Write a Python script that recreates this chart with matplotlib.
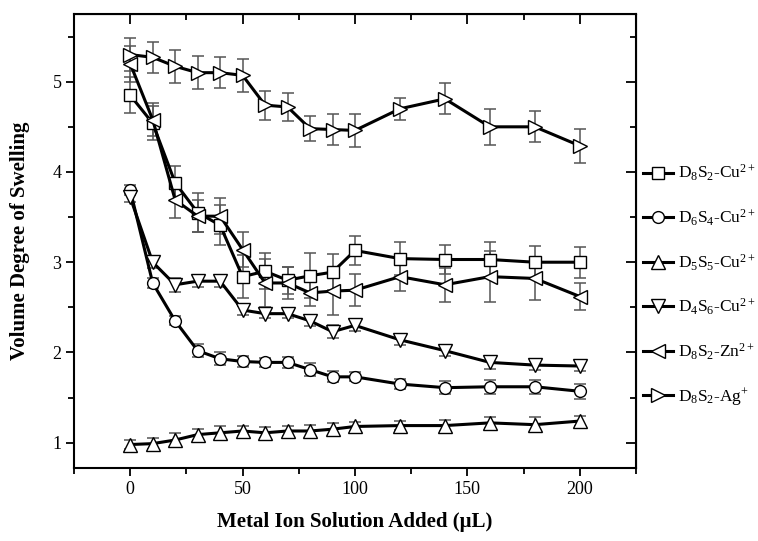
import numpy as np
import matplotlib
matplotlib.use('Agg')
import matplotlib.pyplot as plt
from matplotlib.ticker import MultipleLocator

plt.rcParams['font.family'] = ['Liberation Serif', 'DejaVu Serif']
plt.rcParams['mathtext.fontset'] = 'custom'
plt.rcParams['mathtext.rm'] = 'Liberation Serif'
plt.rcParams['mathtext.it'] = 'Liberation Serif:italic'

x = [0, 10, 20, 30, 40, 50, 60, 70, 80, 90, 100, 120, 140, 160, 180, 200]

d8s2_cu = [4.85, 4.54, 3.88, 3.55, 3.41, 2.84, 2.90, 2.80, 2.85, 2.89, 3.13, 3.04, 3.03, 3.03, 3.00, 3.00]
d8s2_cu_err = [0.20, 0.19, 0.19, 0.22, 0.22, 0.24, 0.20, 0.15, 0.25, 0.20, 0.16, 0.18, 0.16, 0.19, 0.18, 0.17]

d6s4_cu = [3.80, 2.77, 2.35, 2.02, 1.93, 1.90, 1.89, 1.89, 1.81, 1.73, 1.73, 1.65, 1.61, 1.62, 1.62, 1.57]
d6s4_cu_err = [0.05, 0.06, 0.05, 0.07, 0.07, 0.06, 0.05, 0.06, 0.07, 0.06, 0.05, 0.06, 0.07, 0.08, 0.08, 0.08]

d5s5_cu = [0.98, 0.99, 1.03, 1.09, 1.11, 1.13, 1.11, 1.13, 1.13, 1.15, 1.18, 1.19, 1.19, 1.22, 1.20, 1.24]
d5s5_cu_err = [0.05, 0.06, 0.08, 0.06, 0.08, 0.05, 0.06, 0.06, 0.07, 0.07, 0.05, 0.05, 0.06, 0.06, 0.08, 0.06]

d4s6_cu = [3.72, 3.00, 2.75, 2.79, 2.79, 2.47, 2.43, 2.43, 2.35, 2.23, 2.30, 2.14, 2.02, 1.89, 1.86, 1.85]
d4s6_cu_err = [0.05, 0.06, 0.08, 0.06, 0.06, 0.05, 0.05, 0.05, 0.06, 0.07, 0.06, 0.06, 0.06, 0.07, 0.05, 0.05]

d8s2_zn = [5.20, 4.58, 3.69, 3.51, 3.51, 3.14, 2.77, 2.77, 2.66, 2.68, 2.69, 2.84, 2.75, 2.84, 2.82, 2.62]
d8s2_zn_err = [0.20, 0.18, 0.20, 0.18, 0.20, 0.19, 0.27, 0.18, 0.15, 0.27, 0.18, 0.16, 0.19, 0.28, 0.24, 0.15]

d8s2_ag = [5.30, 5.27, 5.17, 5.10, 5.10, 5.07, 4.74, 4.72, 4.48, 4.47, 4.46, 4.70, 4.81, 4.50, 4.50, 4.29]
d8s2_ag_err = [0.18, 0.17, 0.18, 0.18, 0.17, 0.18, 0.16, 0.15, 0.14, 0.17, 0.18, 0.12, 0.17, 0.20, 0.17, 0.19]

series = [
    (d8s2_cu, d8s2_cu_err, 's', r'D$_8$S$_2$-Cu$^{2+}$'),
    (d6s4_cu, d6s4_cu_err, 'o', r'D$_6$S$_4$-Cu$^{2+}$'),
    (d5s5_cu, d5s5_cu_err, '^', r'D$_5$S$_5$-Cu$^{2+}$'),
    (d4s6_cu, d4s6_cu_err, 'v', r'D$_4$S$_6$-Cu$^{2+}$'),
    (d8s2_zn, d8s2_zn_err, '<', r'D$_8$S$_2$-Zn$^{2+}$'),
    (d8s2_ag, d8s2_ag_err, '>', r'D$_8$S$_2$-Ag$^{+}$'),
]

fig = plt.figure(figsize=(7.58, 5.41), dpi=100)
ax = fig.add_axes([74 / 758, 1 - 468 / 541, (636 - 74) / 758, (468 - 14) / 541])

handles = []
for y, err, m, lab in series:
    ax.errorbar(x, y, yerr=err, fmt='none', ecolor='#555555', elinewidth=1.1,
                capsize=4, capthick=1.1, zorder=2)
    ms = 10 if m in ('^', 'v', '<', '>') else 8.5
    h, = ax.plot(x, y, color='black', lw=2.2, marker=m, ms=ms,
                 mfc='white', mec='black', mew=1.0, label=lab, zorder=3)
    handles.append(h)

ax.set_xlim(-25, 225)
ax.set_ylim(0.72, 5.75)
ax.xaxis.set_major_locator(MultipleLocator(50))
ax.xaxis.set_minor_locator(MultipleLocator(25))
ax.yaxis.set_major_locator(MultipleLocator(1))
ax.yaxis.set_minor_locator(MultipleLocator(0.5))

for s in ax.spines.values():
    s.set_linewidth(1.5)

ax.tick_params(which='both', direction='out', width=1.3, labelsize=13, pad=3)
ax.tick_params(which='major', length=6)
ax.tick_params(which='minor', length=4)

# inner ticks on top and right like the original
sec_x = ax.secondary_xaxis('top')
sec_x.xaxis.set_major_locator(MultipleLocator(50))
sec_x.xaxis.set_minor_locator(MultipleLocator(25))
sec_x.tick_params(which='both', direction='in', width=1.3, labeltop=False)
sec_x.tick_params(which='major', length=7)
sec_x.tick_params(which='minor', length=4)
sec_y = ax.secondary_yaxis('right')
sec_y.yaxis.set_major_locator(MultipleLocator(1))
sec_y.yaxis.set_minor_locator(MultipleLocator(0.5))
sec_y.tick_params(which='both', direction='in', width=1.3, labelright=False)
sec_y.tick_params(which='major', length=7)
sec_y.tick_params(which='minor', length=4)

fig.text(355 / 758, 1 - 522 / 541, 'Metal Ion Solution Added (μL)', fontsize=15,
         fontweight='bold', ha='center', va='center')
ax.set_ylabel('Volume Degree of Swelling', fontsize=15, fontweight='bold', labelpad=16)

fig.legend(handles=handles, loc='upper left', bbox_to_anchor=(643 / 758, 1 - 163 / 541),
           frameon=False, fontsize=12.5, handlelength=1.7, handletextpad=0.3,
           labelspacing=1.4, borderpad=0, borderaxespad=0)

fig.savefig('out.png', dpi=100)
